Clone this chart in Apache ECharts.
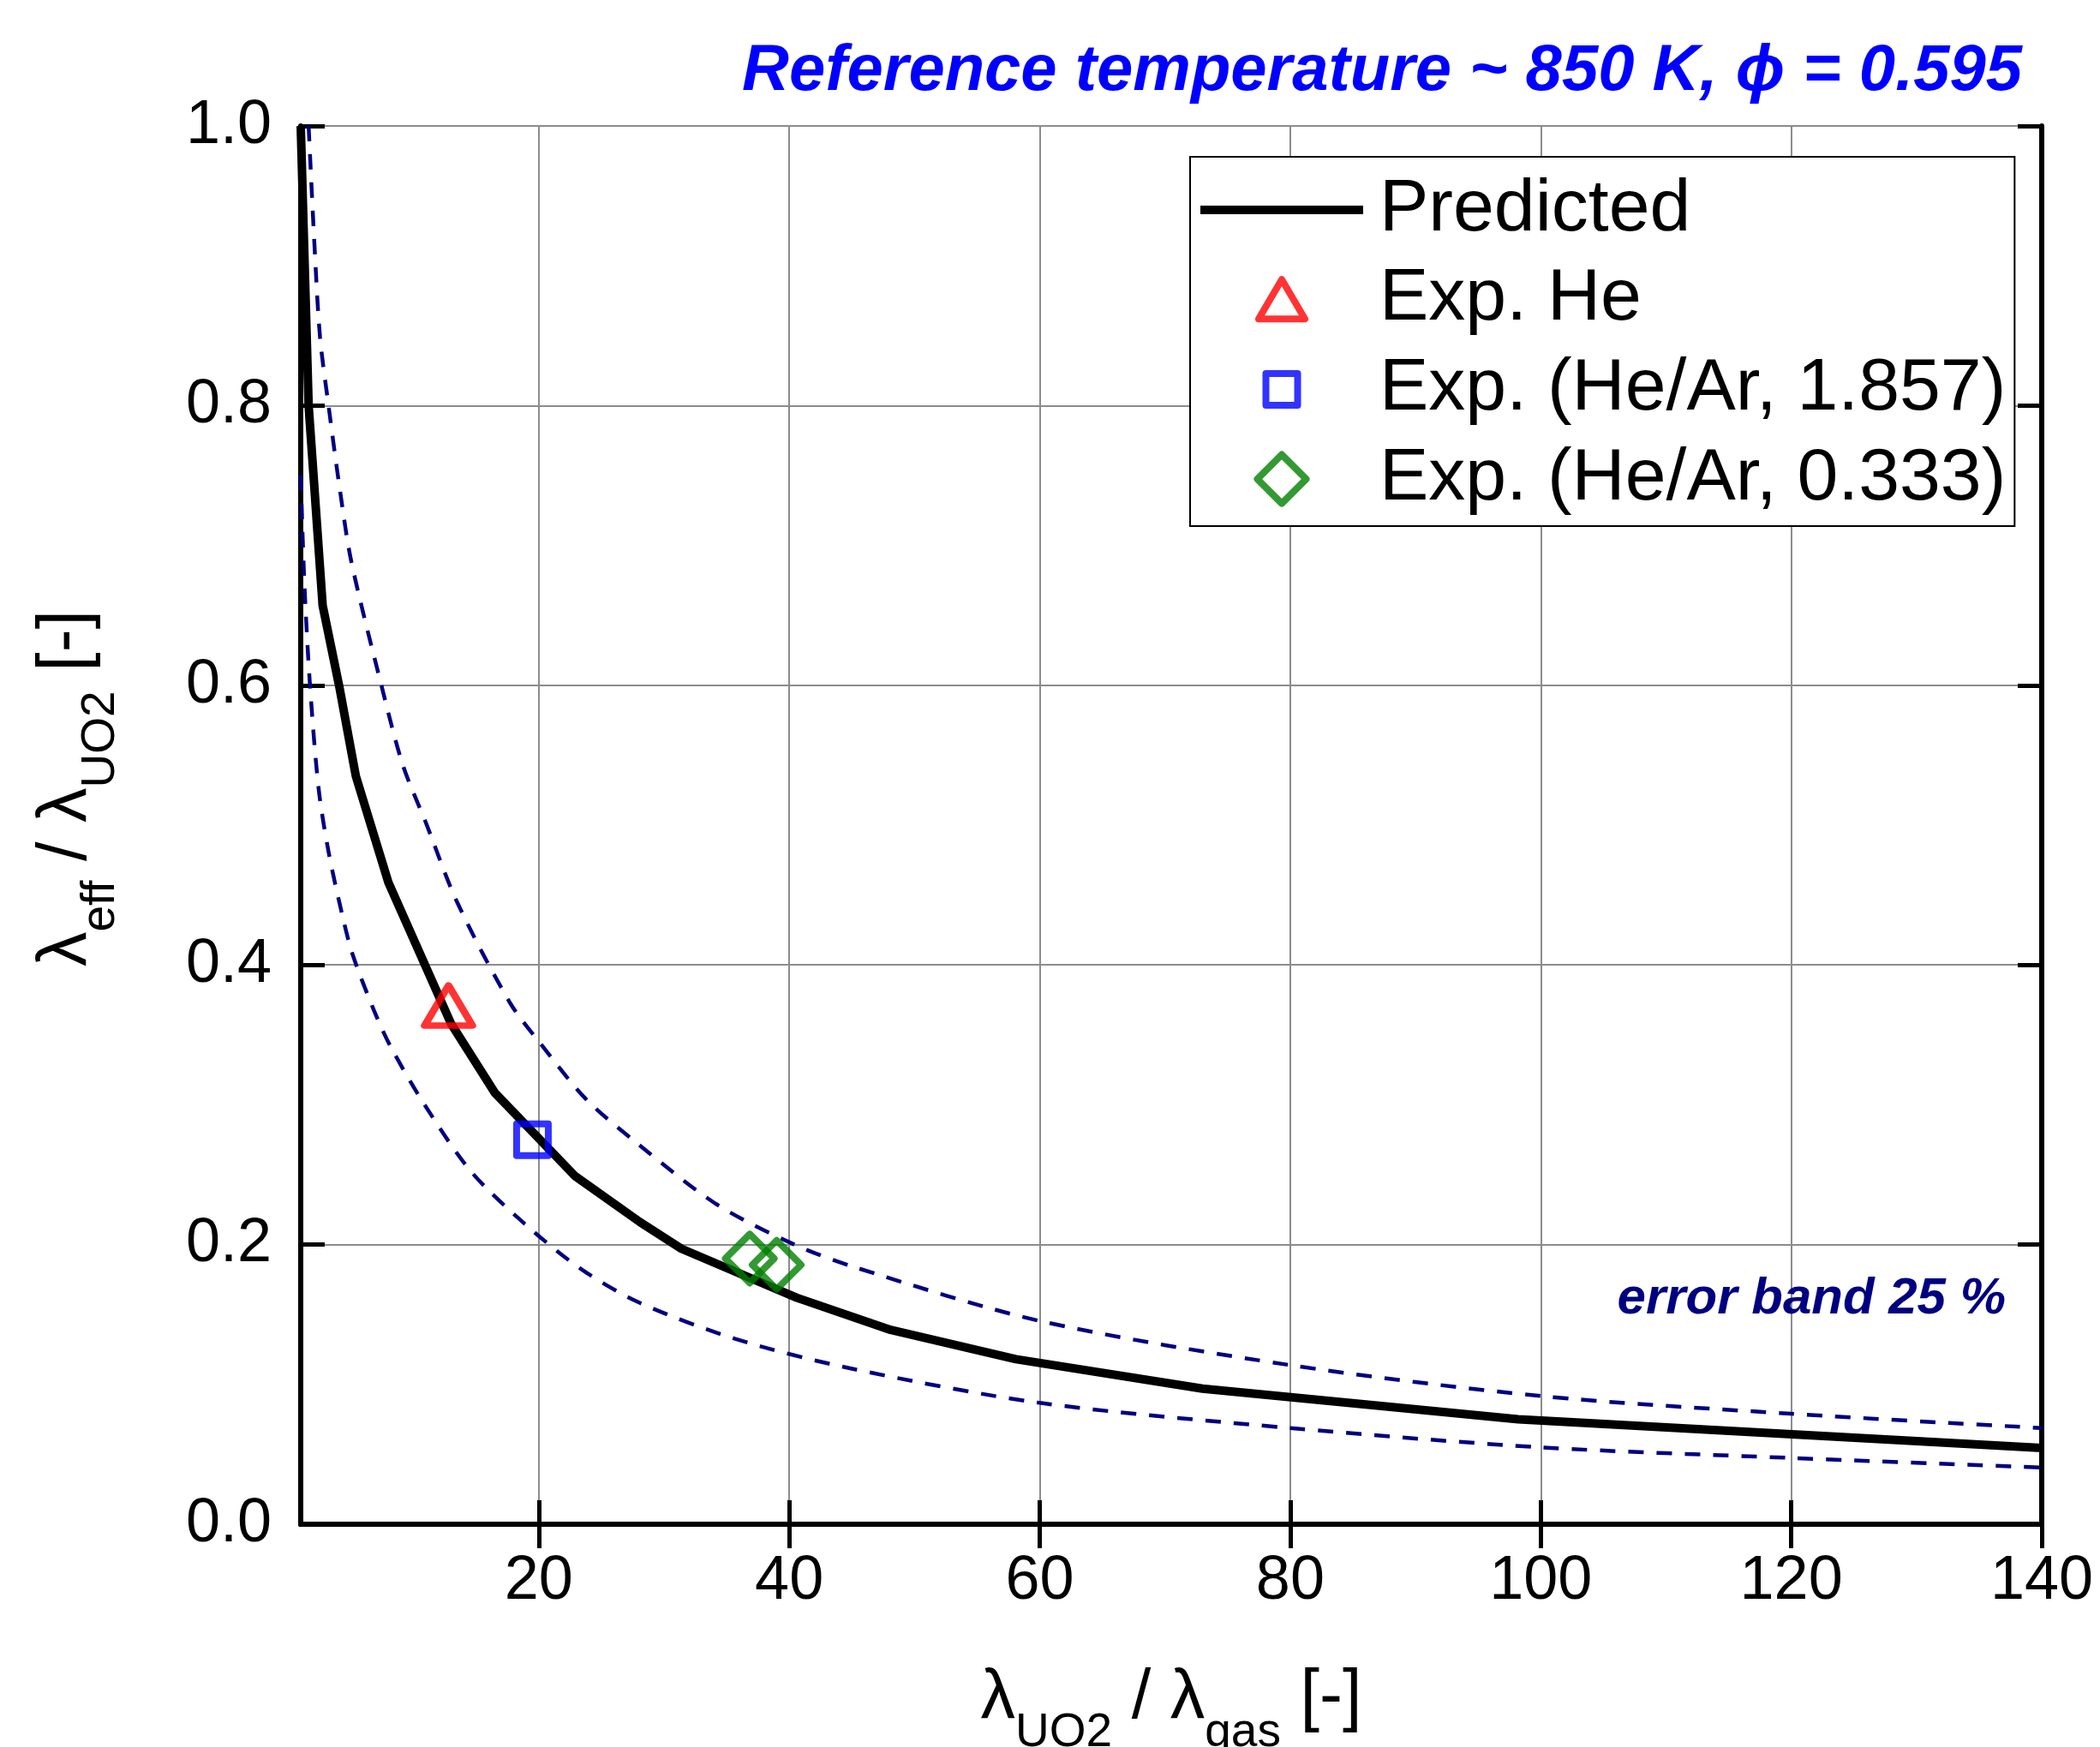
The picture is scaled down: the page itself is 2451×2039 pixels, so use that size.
<!DOCTYPE html>
<html>
<head>
<meta charset="utf-8">
<script src="https://cdn.jsdelivr.net/npm/echarts@6/dist/echarts.min.js"></script>
<style>
html, body { margin: 0; padding: 0; background: #fff; }
#chart { width: 2451px; height: 2039px; }
</style>
</head>
<body>
<div id="chart"></div>
<script>
// ---- data ----
const xTicks = [20, 40, 60, 80, 100, 120, 140];
const yTicks = [0, 0.2, 0.4, 0.6, 0.8, 1.0];

const predX = [1, 1.63, 2.75, 4.1, 5.4, 8.0, 13.0, 16.5, 22.9, 28.1, 31.4, 40.6, 48.1, 58.1, 73.0, 98.2, 140];
const predY = [1.0, 0.80, 0.657, 0.598, 0.535, 0.459, 0.358, 0.3085, 0.249, 0.216, 0.197, 0.162, 0.139, 0.118, 0.097, 0.075, 0.0545];

const upX = [1.63, 2.09, 2.54, 3.22, 4.14, 5.05, 7.44, 9.15, 10.98, 13.48, 17.7, 20.12, 23.78, 28.06, 34.17, 40.27, 45.16, 60, 80, 100, 120, 140];
const upY = [1.0, 0.916, 0.849, 0.80, 0.739, 0.688, 0.60, 0.543, 0.502, 0.445, 0.373, 0.344, 0.304, 0.271, 0.229, 0.2006, 0.184, 0.1454, 0.1138, 0.0917, 0.079, 0.0688];

const loX = [1, 1.29, 1.74, 2.43, 3.22, 4.36, 5.16, 6.87, 8.21, 10.96, 14.62, 18.9, 23.48, 28.06, 35.69, 44.86, 60, 80, 100, 120, 140];
const loY = [0.75, 0.673, 0.60, 0.526, 0.481, 0.434, 0.407, 0.367, 0.341, 0.299, 0.252, 0.2147, 0.1819, 0.1584, 0.1326, 0.1115, 0.0868, 0.0688, 0.055, 0.0474, 0.0406];

const heX = [12.8];
const heY = [0.371];
const he1857X = [19.5];
const he1857Y = [0.275];
const he0333X = [36.85, 39.0];
const he0333Y = [0.190, 0.1855];

const seriesNames = ['Predicted', 'Exp. He', 'Exp. (He/Ar, 1.857)', 'Exp. (He/Ar, 0.333)'];
const titleText = 'Reference temperature ~ 850 K, \u03d5 = 0.595';
const bandText = 'error band 25 %';

// ---- build ----
const zip = (xs, ys) => xs.map((x, i) => [x, ys[i]]);
const FONT = '"Liberation Sans", Arial, sans-serif';

const chart = echarts.init(document.getElementById('chart'), null, { renderer: 'canvas' });

const axisLineStyle = { color: '#000', width: 6 };
const tickStyle = { color: '#000', width: 5 };

const nameRich = {
  m: { fontSize: 81, lineHeight: 85, fontFamily: FONT, color: '#000' },
  s: { fontSize: 55, lineHeight: 55, fontFamily: FONT, color: '#000', padding: [80, 0, 0, 0] }
};

// legend icons (frames include move-to corners so sizes are kept)
const ICON_LINE = 'path://M0,0M190,57M0,23.5H190V33.5H0Z';
const ICON_TRI = 'path://M0,0M54,57M27,5L54,51L0,51Z';
const ICON_SQ = 'path://M0,0M57,57M10,10H47V47H10Z';
const ICON_DIA = 'path://M28.5,0L57,28.5L28.5,57L0,28.5Z';

const option = {
  animation: false,
  backgroundColor: '#fff',
  grid: { left: 351, top: 147, width: 2032, height: 1632, outerBoundsMode: 'none', containLabel: false },
  xAxis: [
    {
      type: 'value', min: 1, max: 140, position: 'bottom',
      axisLine: { show: true, lineStyle: axisLineStyle },
      axisTick: { show: true, inside: true, length: 28, lineStyle: tickStyle, customValues: xTicks },
      axisLabel: { show: true, margin: 31, fontSize: 72, fontFamily: FONT, color: '#000', customValues: xTicks },
      splitLine: { show: true, lineStyle: { color: '#8c8c8c', width: 2 } },
      name: '{m|λ}{s|UO2}{m| / λ}{s|gas}{m| [-]}',
      nameLocation: 'middle', nameGap: 161, nameMoveOverlap: false,
      nameTextStyle: { rich: nameRich }
    },
    {
      type: 'value', min: 1, max: 140, position: 'top',
      axisLine: { show: true, lineStyle: axisLineStyle },
      axisTick: { show: true, inside: true, length: 28, lineStyle: tickStyle, customValues: xTicks },
      axisLabel: { show: false, customValues: xTicks },
      splitLine: { show: false }
    }
  ],
  yAxis: [
    {
      type: 'value', min: 0, max: 1, interval: 0.2, position: 'left',
      axisLine: { show: true, lineStyle: axisLineStyle },
      axisTick: { show: true, inside: true, length: 28, lineStyle: tickStyle },
      axisLabel: { show: true, margin: 34, fontSize: 72, fontFamily: FONT, color: '#000',
        formatter: v => v.toFixed(1) },
      splitLine: { show: true, lineStyle: { color: '#8c8c8c', width: 2 } },
      name: '{m|λ}{s|eff}{m| / λ}{s|UO2}{m| [-]}',
      nameLocation: 'middle', nameGap: 231, nameRotate: 90, nameMoveOverlap: false,
      nameTextStyle: { rich: nameRich, padding: [0, 0, 0, 86] }
    },
    {
      type: 'value', min: 0, max: 1, interval: 0.2, position: 'right',
      axisLine: { show: true, lineStyle: axisLineStyle },
      axisTick: { show: true, inside: true, length: 28, lineStyle: tickStyle },
      axisLabel: { show: false },
      splitLine: { show: false }
    }
  ],
  legend: {
    orient: 'vertical',
    left: 1389, top: 183,
    padding: [19, 10, 12, 12],
    itemWidth: 190, itemHeight: 57, itemGap: 18.7,
    symbolKeepAspect: true,
    borderColor: '#000', borderWidth: 2, backgroundColor: '#fff',
    textStyle: { fontSize: 86, lineHeight: 86, fontFamily: FONT, color: '#000', padding: [0, 0, 0, 14] },
    selectedMode: false,
    data: [
      { name: seriesNames[0], icon: ICON_LINE, itemStyle: { color: '#000', borderWidth: 0 } },
      { name: seriesNames[1], icon: ICON_TRI, itemStyle: { color: 'rgba(0,0,0,0)', borderColor: '#ff0000', borderWidth: 8, borderJoin: 'round' } },
      { name: seriesNames[2], icon: ICON_SQ, itemStyle: { color: 'rgba(0,0,0,0)', borderColor: '#0000ff', borderWidth: 8, borderJoin: 'round' } },
      { name: seriesNames[3], icon: ICON_DIA, itemStyle: { color: 'rgba(0,0,0,0)', borderColor: '#008000', borderWidth: 8, borderJoin: 'round' } }
    ]
  },
  graphic: [
    {
      type: 'text', x: 2360, y: 84, z: 100,
      style: { text: titleText, font: 'italic bold 76px ' + FONT, fill: '#0000ff', align: 'right', verticalAlign: 'middle' }
    },
    {
      type: 'text', x: 2341, y: 1516, z: 100,
      style: { text: bandText, font: 'italic bold 60px ' + FONT, fill: '#000080', align: 'right', verticalAlign: 'middle' }
    }
  ],
  series: [
    {
      name: 'upper band', type: 'line', data: zip(upX, upY), smooth: 0.3,
      symbol: 'none', clip: true, z: 2,
      lineStyle: { color: '#000080', width: 4.5, type: [18, 15] }
    },
    {
      name: 'lower band', type: 'line', data: zip(loX, loY), smooth: 0.3,
      symbol: 'none', clip: true, z: 2,
      lineStyle: { color: '#000080', width: 4.5, type: [18, 15] }
    },
    {
      name: seriesNames[0], type: 'line', data: zip(predX, predY),
      symbol: 'none', clip: true, z: 3,
      itemStyle: { color: '#000' },
      lineStyle: { color: '#000', width: 10, join: 'round' }
    },
    {
      name: seriesNames[1], type: 'scatter', data: zip(heX, heY), z: 5,
      symbol: 'triangle', symbolSize: [56, 47],
      itemStyle: { color: 'rgba(0,0,0,0)', borderColor: '#ff0000', borderWidth: 8, borderJoin: 'round' }
    },
    {
      name: seriesNames[2], type: 'scatter', data: zip(he1857X, he1857Y), z: 5,
      symbol: 'rect', symbolSize: 37,
      itemStyle: { color: 'rgba(0,0,0,0)', borderColor: '#0000ff', borderWidth: 8, borderJoin: 'round' }
    },
    {
      name: seriesNames[3], type: 'scatter', data: zip(he0333X, he0333Y), z: 5,
      symbol: 'diamond', symbolSize: 57,
      itemStyle: { color: 'rgba(0,0,0,0)', borderColor: '#008000', borderWidth: 8, borderJoin: 'round' }
    }
  ]
};

chart.setOption(option);
</script>
</body>
</html>
